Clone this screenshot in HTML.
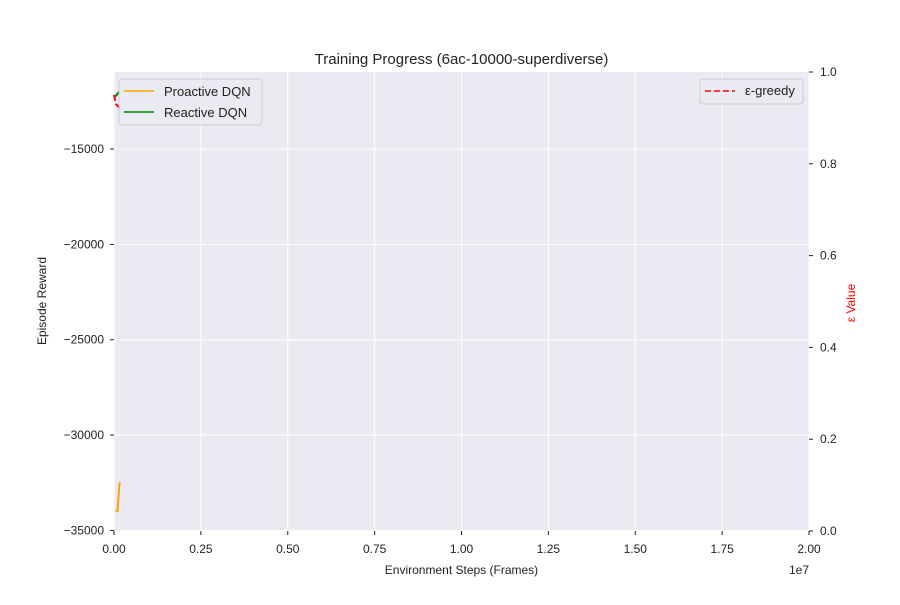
<!DOCTYPE html>
<html><head><meta charset="utf-8"><style>
body{margin:0;background:#fff;}
svg text{font-family:"Liberation Sans","DejaVu Sans",sans-serif;}
</style></head><body>
<svg id="chart" width="900" height="600" xmlns="http://www.w3.org/2000/svg">
<rect x="114" y="72" width="695" height="459" fill="#eaeaf2"/>
<g id="grid"></g>
<g id="series"></g>
<g id="axes"></g>
<text x="461.5" y="64" text-anchor="middle" font-size="15" fill="#222">Training Progress (6ac-10000-superdiverse)</text>
<text x="461.5" y="574" text-anchor="middle" font-size="12" fill="#222">Environment Steps (Frames)</text>
<text x="809" y="574" text-anchor="end" font-size="12" fill="#222">1e7</text>
<text transform="translate(46,301) rotate(-90)" text-anchor="middle" font-size="12" fill="#222">Episode Reward</text>
<text transform="translate(855,303) rotate(-90)" text-anchor="middle" font-size="12" fill="red">ε Value</text>
<g>
<rect x="119" y="79" width="143" height="46" rx="3" fill="#eaeaf2" stroke="#ccc" opacity="0.9"/>
<line x1="124" y1="91" x2="154" y2="91" stroke="orange" stroke-width="1.6"/>
<text x="164" y="96" font-size="13" fill="#222">Proactive DQN</text>
<line x1="124" y1="112" x2="154" y2="112" stroke="green" stroke-width="1.6"/>
<text x="164" y="117" font-size="13" fill="#222">Reactive DQN</text>
</g>
<g>
<rect x="700" y="79" width="103" height="25" rx="3" fill="#eaeaf2" stroke="#ccc" opacity="0.9"/>
<line x1="705" y1="91" x2="735" y2="91" stroke="red" stroke-width="1.6" stroke-dasharray="6,3"/>
<text x="745" y="95" font-size="13" fill="#222">ε-greedy</text>
</g>
</svg>
<script>
const xTicks=[0,0.25,0.5,0.75,1.0,1.25,1.5,1.75,2.0];
const xTickLabels=["0.00","0.25","0.50","0.75","1.00","1.25","1.50","1.75","2.00"];
const yTicks=[-15000,-20000,-25000,-30000,-35000];
const y2Ticks=[0,0.2,0.4,0.6,0.8,1.0];
const proSteps=[50000,100000,160000];
const proReward=[-33950,-33990,-32480];
const reaSteps=[30000,160000];
const reaReward=[-12250,-11980];
const epsSteps=[0,60000,180000];
const epsValue=[0.95,0.93,0.92];
const X0=114,X1=809,Y0=72,Y1=531;
const xs=v=>X0+(v/2e7)*(X1-X0);
const ys=v=>Y1-(v-(-35030))/((-10960)-(-35030))*(Y1-Y0);
const y2s=v=>Y1-v*(Y1-Y0);
const NS="http://www.w3.org/2000/svg";
function mk(tag,attrs,parent){const e=document.createElementNS(NS,tag);for(const k in attrs)e.setAttribute(k,attrs[k]);document.getElementById(parent).appendChild(e);return e;}
xTicks.forEach((t,i)=>{const x=xs(t*1e7);
 const g=mk('line',{x1:x,x2:x,y1:Y0,y2:Y1,stroke:'#fff','stroke-width':1},'grid');
 
 
 const tm=mk('line',{x1:x,x2:x,y1:Y1,y2:Y1+4,stroke:'#222','stroke-width':1},'axes');
 
 
 const l=mk('text',{x:x,y:553,'text-anchor':'middle','font-size':12,fill:'#222'},'axes');l.textContent=xTickLabels[i];
 
 });
yTicks.forEach(t=>{const y=ys(t);
 const g=mk('line',{x1:X0,x2:X1,y1:y,y2:y,stroke:'#fff','stroke-width':1},'grid');
 
 
 const tm=mk('line',{x1:X0-4,x2:X0,y1:y,y2:y,stroke:'#222','stroke-width':1},'axes');
 
 
 const l=mk('text',{x:104,y:y+4,'text-anchor':'end','font-size':12,fill:'#222'},'axes');l.textContent=(t<0?'\u2212':'')+Math.abs(t);
 
 });
y2Ticks.forEach(t=>{const y=y2s(t);
 const tm=mk('line',{x1:X1,x2:X1+4,y1:y,y2:y,stroke:'#222','stroke-width':1},'axes');
 
 
 const l=mk('text',{x:820,y:y+4,'font-size':12,fill:'#222'},'axes');l.textContent=t.toFixed(1);
 
 });
function line(sx,sy,f,col,dash,name){const d=sx.map((v,i)=>(i?'L':'M')+xs(v)+' '+f(sy[i])).join(' ');
 const p=mk('path',{d:d,fill:'none',stroke:col,'stroke-width':2,'stroke-dasharray':dash||'none'},'series');
 
 }
line(proSteps,proReward,ys,'orange',null,'proactive-dqn-line');
line(reaSteps,reaReward,ys,'green',null,'reactive-dqn-line');
line(epsSteps,epsValue,y2s,'red','6,3','epsilon-line');
</script>
</body></html>
